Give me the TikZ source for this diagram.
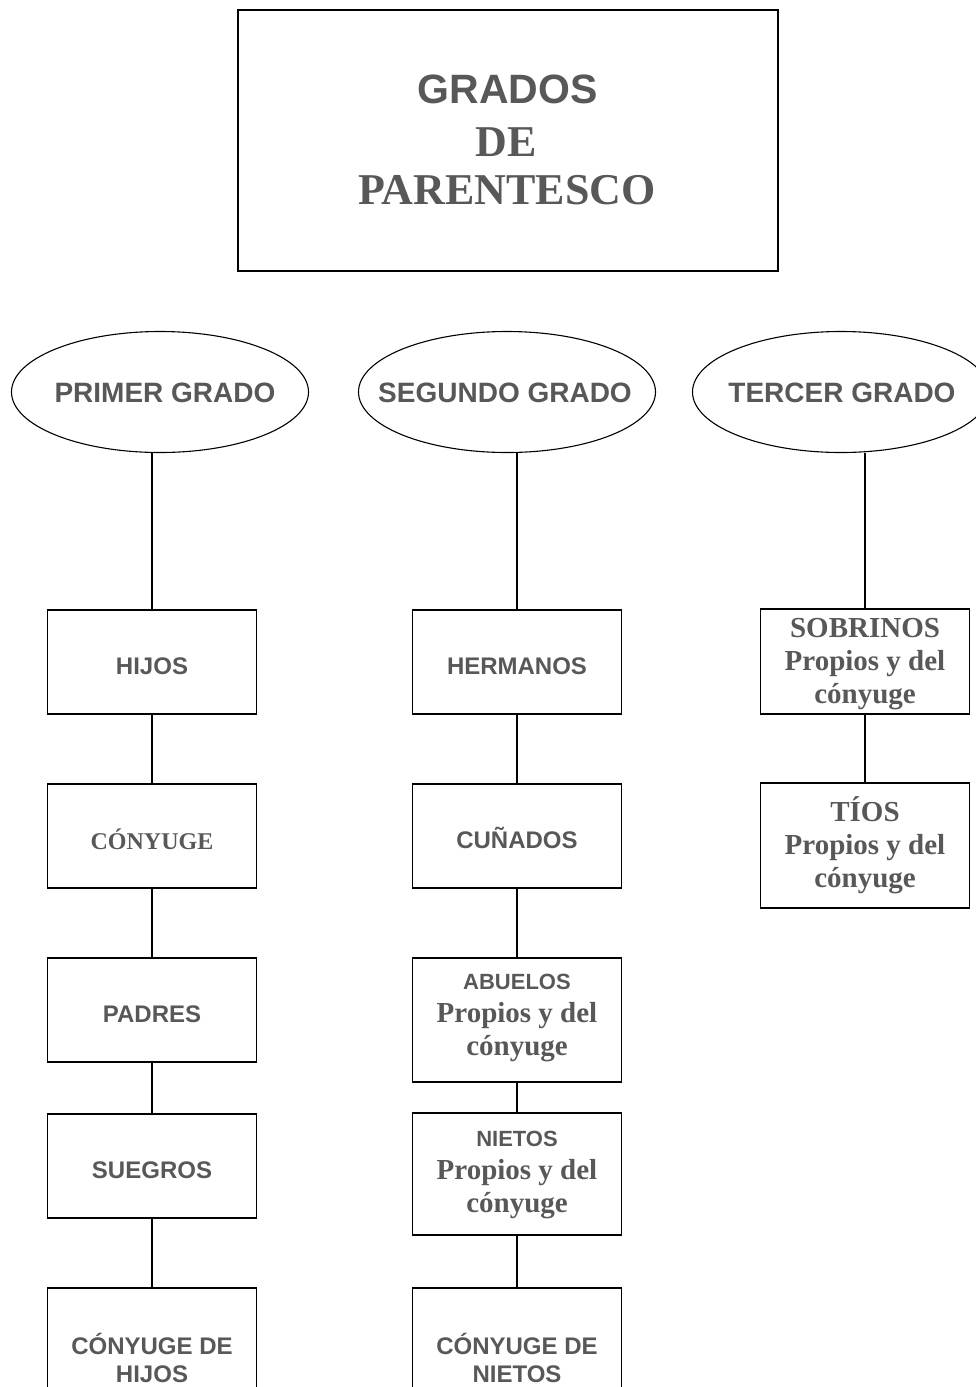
\documentclass[tikz,border=0pt]{standalone}
\usepackage{fontspec}
\setmainfont{Liberation Serif}
\setsansfont{Liberation Sans}
\usetikzlibrary{shapes.geometric}
\definecolor{txtgray}{RGB}{88,88,90}
\begin{document}
\begin{tikzpicture}[x=1pt,y=-1pt,
  box/.style={draw,line width=1.3pt,minimum width=209pt,minimum height=104pt,inner sep=0pt},
  oval/.style={ellipse,draw,line width=1.1pt,minimum width=297pt,minimum height=121pt,inner sep=0pt},
  ovaltext/.style={text=txtgray,inner sep=0pt,font=\sffamily\bfseries\fontsize{28}{34}\selectfont},
  lbl/.style={text=txtgray,anchor=base,align=center,inner sep=0pt},
  sanslbl/.style={lbl,font=\sffamily\bfseries\fontsize{24}{28}\selectfont},
  seriflbl/.style={lbl,font=\bfseries\fontsize{29}{33}\selectfont},
  link/.style={line width=1.3pt}]
\useasboundingbox (0,0) rectangle (976,1387);
\clip (0,0) rectangle (976,1387);

% title
\node[draw,line width=1.5pt,minimum width=540pt,minimum height=261pt,inner sep=0pt] (title) at (508,140.5) {};
\node[lbl,font=\sffamily\bfseries\fontsize{41}{41}\selectfont] (t1) at (507.5,103) {GRADOS};
\node[lbl,font=\bfseries\fontsize{44}{44}\selectfont] (t2) at (506,156) {DE};
\node[lbl,font=\bfseries\fontsize{44}{44}\selectfont] (t3) at (507,204) {PARENTESCO};

% ellipses
\node[oval] (primer) at (160,392) {};
\node[oval] (segundo) at (507,392) {};
\node[oval] (tercer) at (841,392) {};
\node[ovaltext] (tprimer) at (165,393) {PRIMER GRADO};
\node[ovaltext] (tsegundo) at (505,393) {SEGUNDO GRADO};
\node[ovaltext] (ttercer) at (842,393) {TERCER GRADO};

% column 1 boxes
\node[box] (hijos) at (152,662) {};
\node[box] (conyuge) at (152,836) {};
\node[box] (padres) at (152,1010) {};
\node[box] (suegros) at (152,1166) {};
\node[box] (conyhijos) at (152,1340) {};
% column 2 boxes
\node[box] (hermanos) at (517,662) {};
\node[box] (cunados) at (517,836) {};
\node[box,minimum height=124pt] (abuelos) at (517,1020) {};
\node[box,minimum height=122pt] (nietos) at (517,1174) {};
\node[box] (conynietos) at (517,1340) {};
% column 3 boxes
\node[box,minimum height=105pt] (sobrinos) at (865,661.5) {};
\node[box,minimum height=125pt] (tios) at (865,845.5) {};

% labels (anchor=base is the baseline of the last line)
\node[sanslbl] (lhijos) at (152,674) {HIJOS};
\node[lbl,font=\bfseries\fontsize{24}{28}\selectfont] (lconyuge) at (152,849) {CÓNYUGE};
\node[sanslbl] (lpadres) at (152,1022) {PADRES};
\node[sanslbl] (lsuegros) at (152,1178) {SUEGROS};
\node[sanslbl] (lconyhijos) at (152,1382) {CÓNYUGE DE\\HIJOS};
\node[sanslbl] (lhermanos) at (517,674) {HERMANOS};
\node[sanslbl] (lcunados) at (517,848) {CUÑADOS};
\node[seriflbl] (labuelos) at (517,1055) {{\sffamily\fontsize{22}{33}\selectfont ABUELOS}\\Propios y del\\cónyuge};
\node[seriflbl] (lnietos) at (517,1212) {{\sffamily\fontsize{22}{33}\selectfont NIETOS}\\Propios y del\\cónyuge};
\node[sanslbl] (lconynietos) at (517,1382) {CÓNYUGE DE\\NIETOS};
\node[seriflbl] (lsobrinos) at (865,703) {SOBRINOS\\Propios y del\\cónyuge};
\node[seriflbl] (ltios) at (865,887) {TÍOS\\Propios y del\\cónyuge};

% connectors
\draw[link] (hijos.north) -- (hijos.north |- primer.south);
\draw[link] (hijos.south) -- (conyuge.north);
\draw[link] (conyuge.south) -- (padres.north);
\draw[link] (padres.south) -- (suegros.north);
\draw[link] (suegros.south) -- (conyhijos.north);
\draw[link] (hermanos.north) -- (hermanos.north |- segundo.south);
\draw[link] (hermanos.south) -- (cunados.north);
\draw[link] (cunados.south) -- (abuelos.north);
\draw[link] (abuelos.south) -- (nietos.north);
\draw[link] (nietos.south) -- (conynietos.north);
\draw[link] (sobrinos.north) -- (sobrinos.north |- tercer.south);
\draw[link] (sobrinos.south) -- (tios.north);
\end{tikzpicture}
\end{document}
